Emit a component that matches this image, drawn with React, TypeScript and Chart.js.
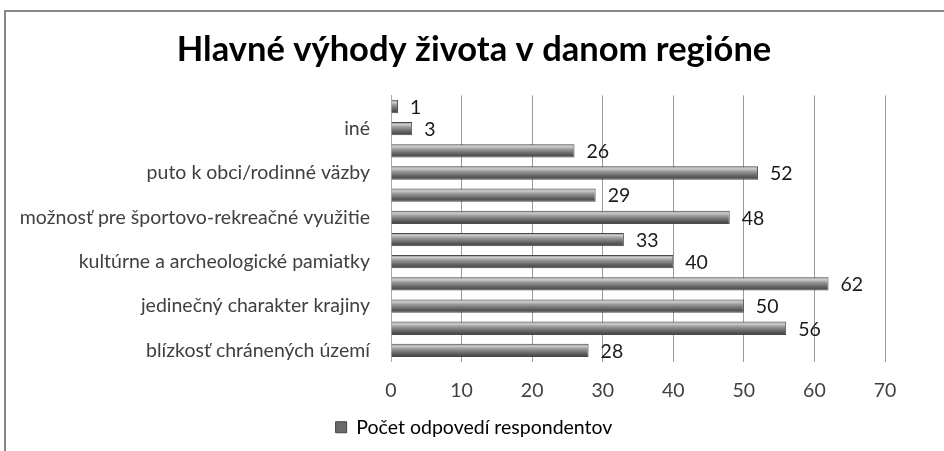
import React, { useEffect, useRef } from "react";
import { Chart, registerables } from "chart.js";

Chart.register(...registerables);

const title = "Hlavné výhody života v danom regióne";
const seriesName = "Počet odpovedí respondentov";
const categories = [
  "blízkosť chránených území",
  "",
  "jedinečný charakter krajiny",
  "",
  "kultúrne a archeologické pamiatky",
  "",
  "možnosť pre športovo-rekreačné využitie",
  "",
  "puto k obci/rodinné väzby",
  "",
  "iné",
  "",
];
const values = [28, 56, 50, 62, 40, 33, 48, 29, 52, 26, 3, 1];
const xTicks = [0, 10, 20, 30, 40, 50, 60, 70];

const FONT = "Lato, 'Liberation Sans', sans-serif";
const FS = 19.5;

const dataLabels = {
  id: "dataLabels",
  afterDatasetsDraw(chart: any) {
    const ctx = chart.ctx;
    const meta = chart.getDatasetMeta(0);
    ctx.save();
    ctx.font = `${FS}px ${FONT}`;
    ctx.fillStyle = "#1a1a1a";
    ctx.textAlign = "left";
    ctx.textBaseline = "middle";
    meta.data.forEach((bar: any, i: number) => {
      ctx.fillText(String(values[i]), bar.x + 12, bar.y + 1);
    });
    ctx.restore();
  },
};

export default function App() {
  const ref = useRef<HTMLCanvasElement | null>(null);
  useEffect(() => {
    if (!ref.current) return;
    const chart = new Chart(ref.current, {
      type: "bar",
      data: {
        labels: categories,
        datasets: [
          {
            label: seriesName,
            data: values,
            backgroundColor: (c: any) => {
              const ch = c.chart;
              const y = ch.scales?.y;
              if (!y || c.dataIndex === undefined) return "#777";
              const yc = y.getPixelForValue(c.dataIndex);
              const h = 13;
              const g = ch.ctx.createLinearGradient(0, yc - h / 2, 0, yc + h / 2);
              g.addColorStop(0, "#8a8a8a");
              g.addColorStop(0.17, "#cdcdcd");
              g.addColorStop(0.38, "#9a9a9a");
              g.addColorStop(0.7, "#666666");
              g.addColorStop(1, "#3e3e3e");
              return g;
            },
            borderColor: "#4a4a4a",
            borderWidth: 1,
            barPercentage: 0.6,
            categoryPercentage: 1,
          },
        ],
      },
      options: {
        indexAxis: "y",
        animation: false,
        responsive: false,
        maintainAspectRatio: false,
        layout: { padding: { left: 0, right: 0, top: 0, bottom: 4 } },
        scales: {
          x: {
            min: 0,
            max: 70,
            afterBuildTicks: (s: any) => {
              s.ticks = xTicks.map((v) => ({ value: v }));
            },
            afterFit: (s: any) => {
              s.height = 48;
            },
            grid: { color: "#9a9a9a", drawTicks: false, lineWidth: 1 },
            border: { display: false },
            ticks: {
              font: { family: FONT, size: FS },
              color: "#404040",
              padding: 18,
            },
          },
          y: {
            reverse: true,
            afterFit: (s: any) => {
              s.width = 387;
            },
            grid: { display: false, drawTicks: false },
            border: { display: true, color: "#aaaaaa" },
            ticks: {
              autoSkip: false,
              font: { family: FONT, size: FS },
              color: "#404040",
              padding: 21,
            },
          },
          yRight: {
            type: "category",
            labels: [""],
            position: "right",
            afterFit: (s: any) => {
              s.width = 59;
            },
            grid: { display: false, drawTicks: false },
            border: { display: false },
            ticks: { display: false },
          },
        },
        plugins: {
          title: {
            display: true,
            text: title,
            font: { family: FONT, size: 34.5, weight: "bold" },
            color: "#000000",
            padding: { top: 19, bottom: 25 },
          },
          legend: {
            position: "bottom",
            labels: {
              font: { family: FONT, size: FS },
              color: "#222222",
              boxWidth: 11,
              boxHeight: 11,
              padding: 8,
              generateLabels: () => [
                {
                  text: seriesName,
                  fillStyle: "#6a6a6a",
                  strokeStyle: "#444444",
                  lineWidth: 1,
                  datasetIndex: 0,
                  hidden: false,
                },
              ],
            },
          },
          tooltip: { enabled: false },
        },
      },
      plugins: [dataLabels],
    });
    return () => chart.destroy();
  }, []);

  return (
    <div
      style={{
        position: "fixed",
        left: 0,
        top: 0,
        width: 944,
        height: 451,
        background: "#ffffff",
        overflow: "hidden",
      }}
    >
      <div
        style={{
          position: "absolute",
          left: 4,
          top: 10,
          width: 960,
          height: 460,
          borderLeft: "2px solid #868686",
          borderTop: "2px solid #868686",
          boxSizing: "border-box",
        }}
      />
      <canvas
        ref={ref}
        width={940}
        height={441}
        style={{ position: "absolute", left: 4, top: 10, width: 940, height: 441 }}
      />
    </div>
  );
}
